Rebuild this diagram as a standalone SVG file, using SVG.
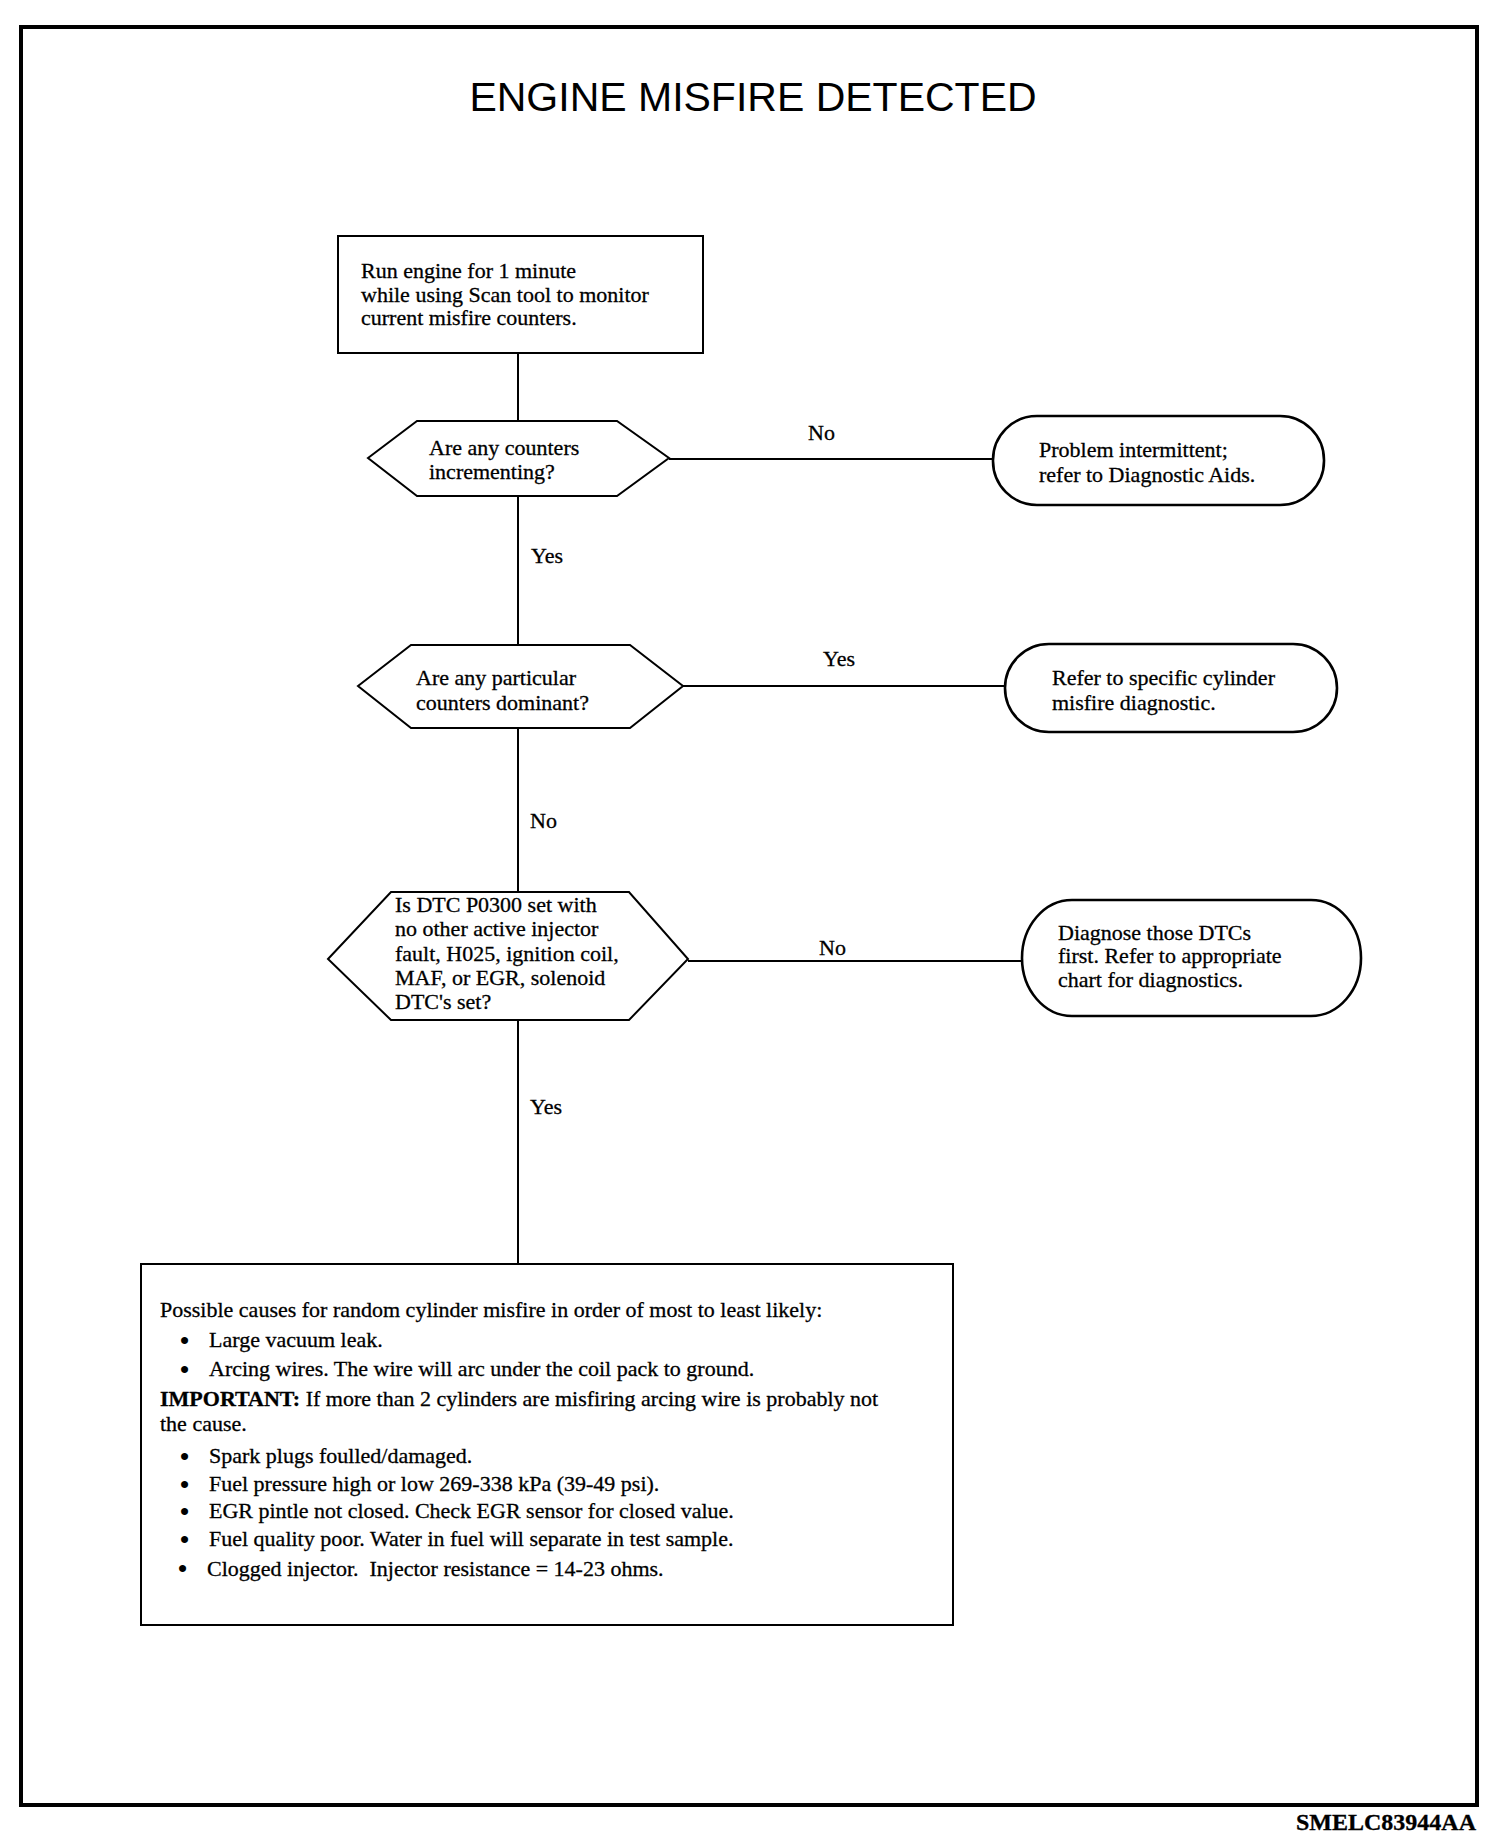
<svg xmlns="http://www.w3.org/2000/svg" width="1504" height="1842" viewBox="0 0 1504 1842">
<style>
.t{font-family:"Liberation Serif","Times New Roman",serif;font-size:22px;fill:#000;stroke:#000;stroke-width:0.3}
.b{font-weight:bold}
.bul{font-family:"Liberation Serif","Times New Roman",serif;font-size:26px;font-weight:bold;fill:#000}
.shape{fill:#fff;stroke:#000;stroke-width:2}
.oval{fill:#fff;stroke:#000;stroke-width:2.6}
.line{fill:none;stroke:#000;stroke-width:2}
.title{font-family:"Liberation Sans",Arial,sans-serif;font-size:41px;fill:#000}
</style>
<rect width="1504" height="1842" fill="#fff"/>
<rect x="21" y="27" width="1456" height="1778" fill="none" stroke="#000" stroke-width="4"/>
<text class="title" x="753" y="111" text-anchor="middle">ENGINE MISFIRE DETECTED</text>

<g id="connectors">
  <line class="line" x1="518" y1="353" x2="518" y2="1264"/>
  <line class="line" x1="669" y1="459" x2="993" y2="459"/>
  <line class="line" x1="683" y1="686" x2="1005" y2="686"/>
  <line class="line" x1="688" y1="961" x2="1022" y2="961"/>
  <text class="t" x="808" y="440">No</text>
  <text class="t" x="531" y="563">Yes</text>
  <text class="t" x="823" y="666">Yes</text>
  <text class="t" x="530" y="828">No</text>
  <text class="t" x="819" y="955">No</text>
  <text class="t" x="530" y="1114">Yes</text>
</g>

<g id="start">
  <rect class="shape" x="338" y="236" width="365" height="117"/>
  <text class="t" x="361" y="278">Run engine for 1 minute</text>
  <text class="t" x="361" y="302">while using Scan tool to monitor</text>
  <text class="t" x="361" y="325">current misfire counters.</text>
</g>

<g id="q1">
  <polygon class="shape" points="368,458 417,421 617,421 669,458 617,496 417,496"/>
  <text class="t" x="429" y="455">Are any counters</text>
  <text class="t" x="429" y="479">incrementing?</text>
</g>

<g id="r1">
  <rect class="oval" x="993" y="416" width="331" height="89" rx="44" ry="44"/>
  <text class="t" x="1039" y="457">Problem intermittent;</text>
  <text class="t" x="1039" y="482">refer to Diagnostic Aids.</text>
</g>

<g id="q2">
  <polygon class="shape" points="358,686 411,645 630,645 683,686 630,728 411,728"/>
  <text class="t" x="416" y="685">Are any particular</text>
  <text class="t" x="416" y="710">counters dominant?</text>
</g>

<g id="r2">
  <rect class="oval" x="1005" y="644" width="332" height="88" rx="44" ry="44"/>
  <text class="t" x="1052" y="685">Refer to specific cylinder</text>
  <text class="t" x="1052" y="710">misfire diagnostic.</text>
</g>

<g id="q3">
  <polygon class="shape" points="328,959 391,892 629,892 688,959 629,1020 391,1020"/>
  <text class="t" x="395" y="912">Is DTC P0300 set with</text>
  <text class="t" x="395" y="936">no other active injector</text>
  <text class="t" x="395" y="961">fault, H025, ignition coil,</text>
  <text class="t" x="395" y="985">MAF, or EGR, solenoid</text>
  <text class="t" x="395" y="1009">DTC's set?</text>
</g>

<g id="r3">
  <rect class="oval" x="1022" y="900" width="339" height="116" rx="50" ry="58"/>
  <text class="t" x="1058" y="940">Diagnose those DTCs</text>
  <text class="t" x="1058" y="963">first. Refer to appropriate</text>
  <text class="t" x="1058" y="987">chart for diagnostics.</text>
</g>

<g id="causes">
  <rect class="shape" x="141" y="1264" width="812" height="361"/>
  <text class="t" x="160" y="1317">Possible causes for random cylinder misfire in order of most to least likely:</text>
  <text class="bul" x="180" y="1349">•</text><text class="t" x="209" y="1347">Large vacuum leak.</text>
  <text class="bul" x="180" y="1378">•</text><text class="t" x="209" y="1376">Arcing wires. The wire will arc under the coil pack to ground.</text>
  <text class="t" x="160" y="1406"><tspan class="b">IMPORTANT:</tspan> If more than 2 cylinders are misfiring arcing wire is probably not</text>
  <text class="t" x="160" y="1431">the cause.</text>
  <text class="bul" x="180" y="1465">•</text><text class="t" x="209" y="1463">Spark plugs foulled/damaged.</text>
  <text class="bul" x="180" y="1493">•</text><text class="t" x="209" y="1491">Fuel pressure high or low 269-338 kPa (39-49 psi).</text>
  <text class="bul" x="180" y="1520">•</text><text class="t" x="209" y="1518">EGR pintle not closed. Check EGR sensor for closed value.</text>
  <text class="bul" x="180" y="1548">•</text><text class="t" x="209" y="1546">Fuel quality poor. Water in fuel will separate in test sample.</text>
  <text class="bul" x="178" y="1577">•</text><text class="t" x="207" y="1576" xml:space="preserve">Clogged injector.  Injector resistance = 14-23 ohms.</text>
</g>

<text class="t b" x="1476" y="1830" text-anchor="end" style="font-size:24px">SMELC83944AA</text>
</svg>
